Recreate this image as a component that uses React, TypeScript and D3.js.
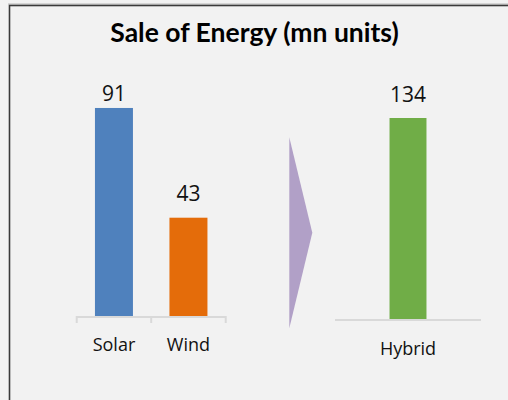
import React from "react";
import * as d3 from "d3";

const leftCategories = ["Solar", "Wind"];
const leftValues = [91, 43];
const rightCategories = ["Hybrid"];
const rightValues = [134];
const barColors = ["#4f81bd", "#e46c0a"];
const hybridColor = "#70ad47";
const title = "Sale of Energy (mn units)";

const W = 508;
const H = 400;
const TITLE_FONT = "Lato, sans-serif";
const FONT = "'Open Sans', sans-serif";

export default function App() {
  const xL = d3.scaleBand<string>().domain(leftCategories).range([76.7, 225.7]).paddingInner(0.49).paddingOuter(0.245);
  const yL = d3.scaleLinear().domain([0, 100]).range([316, 87.4]);
  const xR = d3.scaleBand<string>().domain(rightCategories).range([335, 481]).paddingInner(0.747).paddingOuter(0.3735);
  const yR = d3.scaleLinear().domain([0, 150]).range([319, 94]);
  const leftLabelGap = [7, 17];
  const rightLabelGap = [16.5];

  const leftTicks = [...leftCategories.map((c) => xL(c)! - (xL.step() * xL.paddingInner()) / 2), 225.7];

  return (
    <svg width={W} height={H} style={{ position: "absolute", left: 0, top: 0, background: "#f2f2f2" }} fontFamily={FONT}>
      <rect x={0} y={0} width={W} height={H} fill="#f2f2f2" />
      <line x1={8} x2={W} y1={4} y2={4} stroke="#b8b8b8" strokeWidth={1} />
      <rect x={9.5} y={5.5} width={W + 20} height={H + 20} fill="none" stroke="#3a3a3a" strokeWidth={1.6} />
      <text x={254.5} y={42} textAnchor="middle" fontWeight="bold" fontSize={26.5} fill="#000" fontFamily={TITLE_FONT}>
        {title}
      </text>

      {/* left axis */}
      <line x1={76.7} x2={225.7} y1={317} y2={317} stroke="#d9d9d9" strokeWidth={2} />
      {leftTicks.map((t, i) => (
        <line key={i} x1={t} x2={t} y1={316} y2={323} stroke="#d9d9d9" strokeWidth={2} />
      ))}
      {leftCategories.map((c, i) => (
        <g key={c}>
          <rect x={xL(c)} y={yL(leftValues[i])} width={xL.bandwidth()} height={yL(0) - yL(leftValues[i])} fill={barColors[i]} />
          <text x={xL(c)! + xL.bandwidth() / 2} y={yL(leftValues[i]) - leftLabelGap[i]} textAnchor="middle" fontSize={21} fill="#111">
            {leftValues[i]}
          </text>
          <text x={xL(c)! + xL.bandwidth() / 2} y={351} textAnchor="middle" fontSize={18} fill="#111">
            {c}
          </text>
        </g>
      ))}

      {/* arrow */}
      <polygon points="289.3,137.3 312.3,232.7 289.3,328.3" fill="#b1a0c7" />

      {/* right axis */}
      <line x1={335} x2={481} y1={320} y2={320} stroke="#d9d9d9" strokeWidth={2} />
      {rightCategories.map((c, i) => (
        <g key={c}>
          <rect x={xR(c)} y={yR(rightValues[i])} width={xR.bandwidth()} height={yR(0) - yR(rightValues[i])} fill={hybridColor} />
          <text x={xR(c)! + xR.bandwidth() / 2} y={yR(rightValues[i]) - rightLabelGap[i]} textAnchor="middle" fontSize={21} fill="#111">
            {rightValues[i]}
          </text>
          <text x={xR(c)! + xR.bandwidth() / 2} y={355} textAnchor="middle" fontSize={18} fill="#111">
            {c}
          </text>
        </g>
      ))}
    </svg>
  );
}
